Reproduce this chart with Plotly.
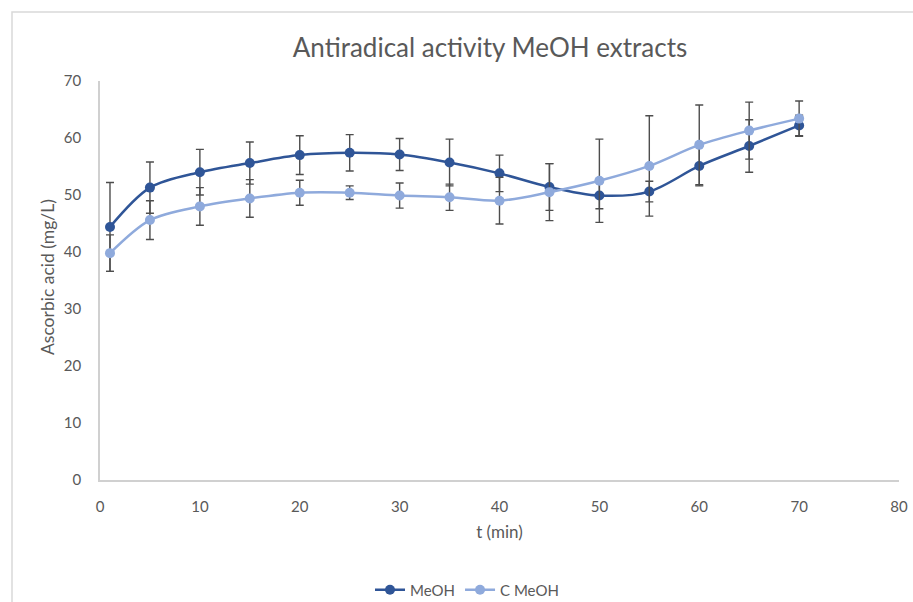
import plotly.graph_objects as go

t_min = [1, 5, 10, 15, 20, 25, 30, 35, 40, 45, 50, 55, 60, 65, 70]
meoh = [44.4, 51.3, 54.0, 55.6, 57.0, 57.4, 57.1, 55.7, 53.8, 51.4, 49.9, 50.6, 55.1, 58.6, 62.2]
meoh_err = [7.8, 4.5, 4.0, 3.7, 3.4, 3.2, 2.8, 4.1, 3.2, 4.1, 2.3, 1.8, 3.5, 4.6, 1.8]
c_meoh = [39.8, 45.6, 48.0, 49.4, 50.4, 50.4, 49.9, 49.6, 49.0, 50.5, 52.5, 55.1, 58.8, 61.3, 63.4]
c_meoh_err = [3.2, 3.4, 3.3, 3.3, 2.2, 1.2, 2.2, 2.3, 4.1, 5.0, 7.3, 8.8, 7.0, 5.0, 3.1]

FONT = "Lato"
GREY = "#595959"
DARK = "#2f5597"
LIGHT = "#8faadc"
ERR = "#4d4d4d"

W, H = 913, 602
L, R, T, B = 100, 14, 81, 122
pw, ph = W - L - R, H - T - B

fig = go.Figure()
for name, y, e, col in [("MeOH", meoh, meoh_err, DARK), ("C MeOH", c_meoh, c_meoh_err, LIGHT)]:
    fig.add_trace(go.Scatter(
        x=t_min, y=y, name=name, mode="lines+markers",
        line=dict(color=col, width=2.5, shape="spline", smoothing=0.9),
        marker=dict(color=col, size=10, symbol="circle"),
        error_y=dict(type="data", array=e, visible=True, color=ERR, thickness=1.4, width=4),
    ))

fig.update_layout(
    width=W, height=H,
    margin=dict(l=L, r=R, t=T, b=B, autoexpand=False),
    paper_bgcolor="white", plot_bgcolor="white",
    font=dict(family=FONT, color=GREY, size=13),
    title=dict(text="Antiradical activity MeOH extracts", x=490 / W, xanchor="center",
               y=1 - 48 / H, yanchor="middle", yref="container", xref="container",
               font=dict(family=FONT, size=26, color=GREY)),
    showlegend=True,
    legend=dict(orientation="h", x=(467 - L) / pw, xanchor="center",
                y=-(590 - (H - B)) / ph, yanchor="middle",
                font=dict(family=FONT, size=15, color=GREY), itemwidth=30,
                traceorder="normal"),
    xaxis=dict(range=[0, 80], dtick=10, tick0=0, showgrid=False, zeroline=False,
               showline=True, linecolor="#d0d0d0", linewidth=1.5,
               ticks="outside", ticklen=12, tickcolor="rgba(0,0,0,0)",
               tickfont=dict(family=FONT, size=15, color=GREY),
               title=dict(text="t (min)", font=dict(family=FONT, size=17, color=GREY), standoff=12)),
    yaxis=dict(range=[0, 70], dtick=10, tick0=0, showgrid=False, zeroline=False,
               showline=True, linecolor="#d0d0d0", linewidth=1.5,
               ticks="outside", ticklen=14, tickcolor="rgba(0,0,0,0)",
               tickfont=dict(family=FONT, size=15, color=GREY)),
    annotations=[dict(text="Ascorbic acid (mg/L)", x=(47 - L) / pw, y=(H - B - 277) / ph,
                      xref="paper", yref="paper", xanchor="center", yanchor="middle",
                      showarrow=False, textangle=-90,
                      font=dict(family=FONT, size=17.5, color=GREY))],
    shapes=[dict(type="rect", xref="paper", yref="paper",
                 x0=(12 - L) / pw, x1=(930 - L) / pw,
                 y0=-(620 - (H - B)) / ph, y1=(H - B - 12) / ph,
                 line=dict(color="#d9d9d9", width=1.5), layer="below")],
)

fig.write_html("out.html")
